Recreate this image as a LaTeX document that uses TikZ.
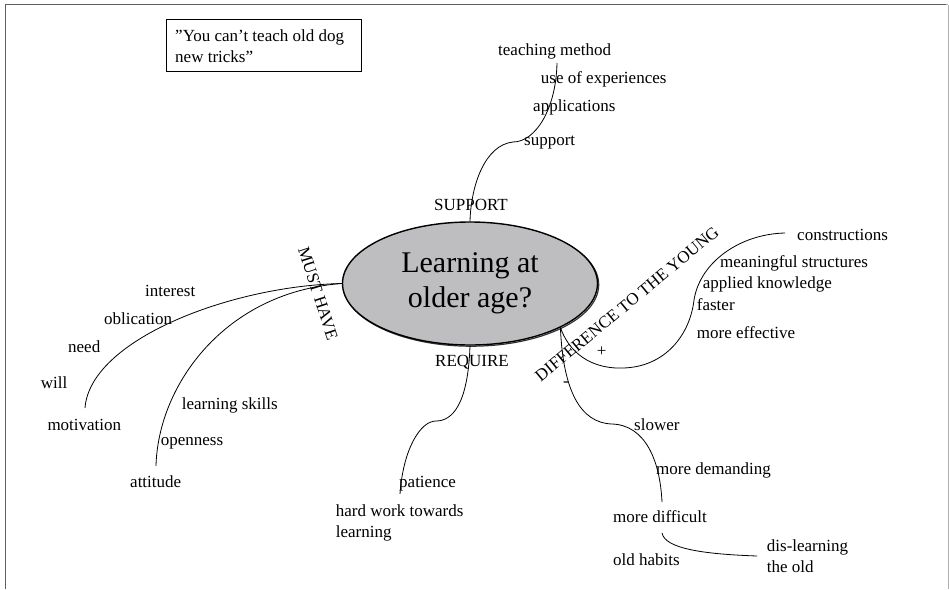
\documentclass[tikz,border=0pt]{standalone}
\usepackage{fontspec}
\setmainfont{Liberation Serif}
\usetikzlibrary{shapes.geometric}
\definecolor{ellfill}{RGB}{190,190,193}
\definecolor{framecol}{RGB}{95,95,95}
\definecolor{framecolR}{RGB}{175,175,175}
\tikzset{
  lbl/.style={anchor=base west, inner sep=0pt, font=\fontsize{17}{21}\selectfont},
  rotlbl/.style={anchor=center, inner sep=0pt, font=\fontsize{17}{21}\selectfont},
  conn/.style={line width=0.8pt, black},
  centre/.style={ellipse, draw, line width=1.4pt, fill=ellfill, minimum width=255pt, minimum height=123pt, inner sep=0pt, align=center, font=\fontsize{30}{35}\selectfont},
  quotebox/.style={draw, line width=1pt, minimum width=195pt, minimum height=52pt, anchor=north west, inner sep=0pt}
}
\begin{document}
\begin{tikzpicture}[x=1pt, y=-1pt]
\useasboundingbox (0,0) rectangle (949,589);
% frame
\draw[framecol, line width=1.3pt] (5.3,589) -- (5.3,4.7) -- (946,4.7);
\draw[framecolR, line width=1.1pt] (946,4.7) -- (948,4.7) (948.3,4.7) -- (948.3,589);

% quote box
\node[quotebox] (quote) at (165.7,19.3) {};
\node[lbl] (quotetxt) at (175,41.7) {\begin{tabular}[t]{@{}l@{}}”You can’t teach old dog\\new tricks”\end{tabular}};

% centre ellipse with slight shadow
\draw[line width=1.2pt, black!80] (471.2,284.7) ellipse [x radius=127.5, y radius=61.5];
\node[centre] (c) at (470,283.5) {Learning at\\older age?};

% branch labels
\node[lbl] (support) at (434,210.7) {SUPPORT};
\node[lbl] (require) at (435,366.7) {REQUIRE};
\node[rotlbl, rotate=-72] (musthave) at (318,293.5) {MUST HAVE};
\node[rotlbl, rotate=39.6] (diff) at (627,304) {DIFFERENCE TO THE YOUNG};

% support items
\node[lbl] (tm) at (498,55) {teaching method};
\node[lbl] (uoe) at (540.7,83) {use of experiences};
\node[lbl] (app) at (533,111) {applications};
\node[lbl] (sup) at (524,145.5) {support};

% must have items
\node[lbl] (interest) at (145,296) {interest};
\node[lbl] (oblic) at (104,324.3) {oblication};
\node[lbl] (need) at (68,352.7) {need};
\node[lbl] (will) at (40.7,388) {will};
\node[lbl] (motiv) at (47.3,430.7) {motivation};
\node[lbl] (lskills) at (181.7,409) {learning skills};
\node[lbl] (open) at (160.7,445.3) {openness};
\node[lbl] (att) at (130,487.3) {attitude};

% require items
\node[lbl] (pat) at (399,487.3) {patience};
\node[lbl] (hard) at (335.7,516) {\begin{tabular}[t]{@{}l@{}}hard work towards\\learning\end{tabular}};

% difference items
\node[lbl] (constr) at (797,240) {constructions};
\node[lbl] (meanstr) at (720,267.7) {meaningful structures};
\node[lbl] (applk) at (702.7,288) {applied knowledge};
\node[lbl] (faster) at (696.7,310) {faster};
\node[lbl] (moreeff) at (696.7,338) {more effective};
\node[rotlbl] (plus) at (601.7,352) {+};
\node[rotlbl] (minus) at (566,384) {-};
\node[lbl] (slower) at (634,430.7) {slower};
\node[lbl] (moredem) at (656,474) {more demanding};
\node[lbl] (morediff) at (613,522.7) {more difficult};
\node[lbl] (oldhab) at (613,565.7) {old habits};
\node[lbl] (disl) at (766.7,551.7) {\begin{tabular}[t]{@{}l@{}}dis-learning\\the old\end{tabular}};

% connector end points
\coordinate (supEnd) at (557,63);
\coordinate (reqEnd) at (400,494);
\coordinate (mhA) at (85,408);
\coordinate (mhB) at (156,466);
\coordinate (plusEnd) at (785,233);
\coordinate (minusEnd) at (662,502);
\coordinate (dlStart) at (662,533);
\coordinate (dlEnd) at (757,556);

% connectors
\draw[conn] (c.north) .. controls (471,185) and (485,145) .. (513,142)
  .. controls (535,142) and (556,110) .. (supEnd);
\draw[conn] (c.south) .. controls (468,405) and (452,421) .. (436,421)
  .. controls (420,421) and (403,450) .. (reqEnd);
\draw[conn] (c.west) .. controls (230,286) and (90,340) .. (mhA);
\draw[conn] (c.west) .. controls (225,292) and (158,385) .. (mhB);
\draw[conn] (c.-26) .. controls (572,360) and (600,369) .. (623,368)
  .. controls (665,367) and (690,335) .. (694,300)
  .. controls (700,262) and (740,234) .. (plusEnd);
\draw[conn] (c.-26) .. controls (563,390) and (580,423) .. (612,424)
  .. controls (645,425) and (660,460) .. (minusEnd);
\draw[conn] (dlStart) .. controls (665,548) and (700,554) .. (dlEnd);
\end{tikzpicture}
\end{document}
